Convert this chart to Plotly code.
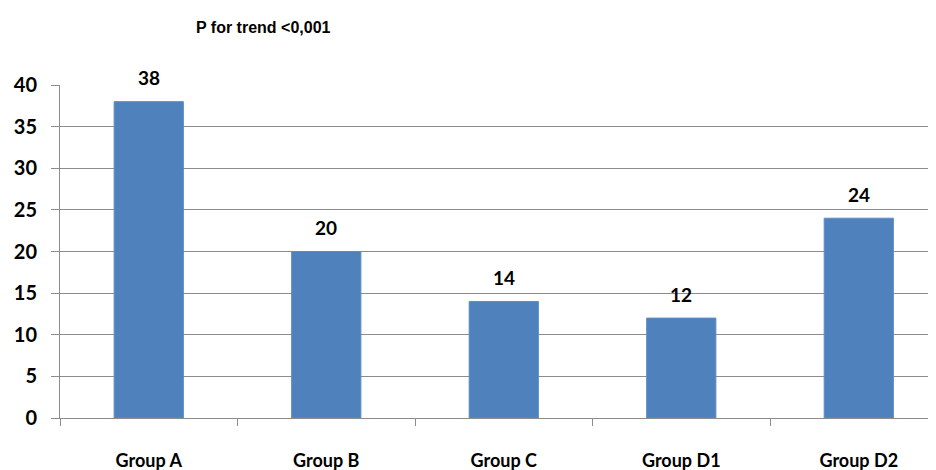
import plotly.graph_objects as go

categories = ["Group A", "Group B", "Group C", "Group D1", "Group D2"]
values = [38, 20, 14, 12, 24]
y_ticks = [0, 5, 10, 15, 20, 25, 30, 35, 40]
title_text = "P for trend <0,001"

FONT = "Lato, Carlito, Calibri, sans-serif"

fig = go.Figure()
fig.add_trace(go.Bar(
    x=categories, y=values,
    marker=dict(color="#4F81BD", line=dict(color="#5B8CC8", width=1)),
    cliponaxis=False,
))

annotations = [dict(
    x=c, y=v, xref="x", yref="y", text="<b>%d</b>" % v, showarrow=False,
    yanchor="middle", yshift=24,
    font=dict(family=FONT, size=19, color="#000000"),
) for c, v in zip(categories, values)]

annotations.append(dict(
    text="<b>" + title_text + "</b>", xref="paper", yref="paper",
    x=(186 - 52) / 876, y=(410 - 20) / 333, xanchor="left", yanchor="middle",
    showarrow=False, font=dict(family="Liberation Sans Narrow, Arial Narrow, sans-serif", size=16, color="#000000"),
))

fig.update_layout(
    width=928, height=462,
    margin=dict(l=52, r=0, t=77, b=52, autoexpand=False),
    paper_bgcolor="white", plot_bgcolor="white",
    bargap=0.61,
    showlegend=False,
    annotations=annotations,
)

fig.update_xaxes(
    range=[-0.5, 4.435], automargin=False,
    showline=True, linecolor="#8c8c8c", linewidth=1,
    ticks="outside", tickson="boundaries", ticklen=7, tickcolor="#8c8c8c",
    tickfont=dict(family=FONT, size=18, color="#000000", weight="bold"),
    ticklabelstandoff=26,
    showgrid=False, fixedrange=True,
)
fig.update_yaxes(
    range=[0, 40], tickvals=y_ticks, automargin=False,
    showline=True, linecolor="#8c8c8c", linewidth=1,
    ticks="outside", ticklen=8, tickcolor="#8c8c8c",
    showgrid=True, gridcolor="#8c8c8c", gridwidth=1,
    zeroline=False,
    tickfont=dict(family=FONT, size=20, color="#000000", weight="bold"),
    ticklabelstandoff=10,
)

fig.write_html("out.html")
